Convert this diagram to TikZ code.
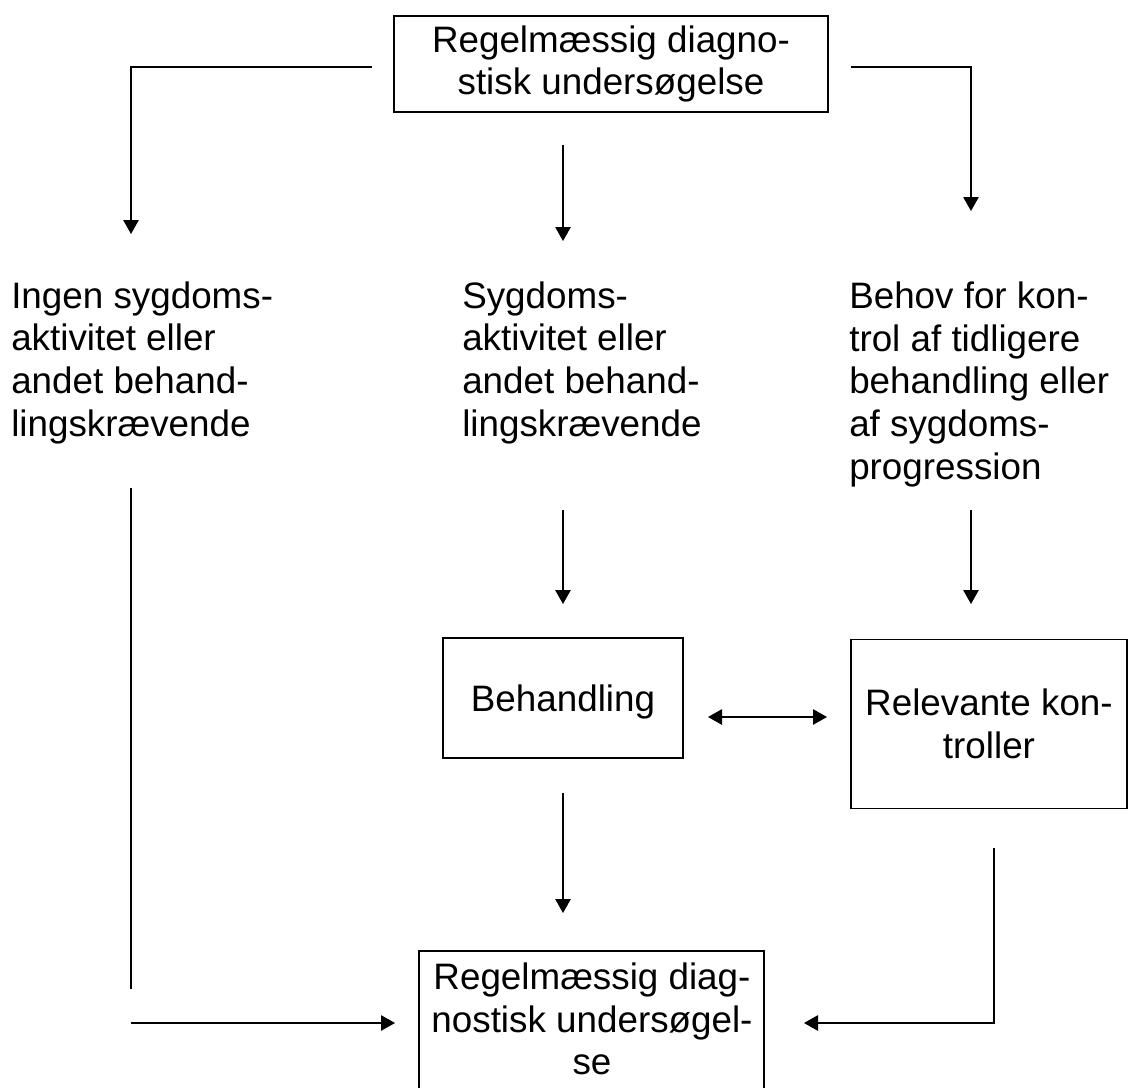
\documentclass[tikz,border=0pt]{standalone}
\usepackage{fontspec}
\setmainfont{Liberation Sans}
\usetikzlibrary{arrows.meta}
\begin{document}
\begin{tikzpicture}[x=0.75pt,y=-0.75pt,
  box/.style={draw, line width=1.3pt, inner sep=0pt, align=center, font=\fontsize{27.6pt}{32pt}\selectfont},
  txt/.style={font=\fontsize{27.6pt}{32pt}\selectfont, inner sep=0pt},
  ln/.style={line width=1.3pt},
  arr/.style={line width=1.3pt, -{Triangle[length=10.5pt,width=11.5pt]}},
  darr/.style={line width=1.3pt, {Triangle[length=10.5pt,width=11.5pt]}-{Triangle[length=10.5pt,width=11.5pt]}}]
\useasboundingbox (0,0) rectangle (1129,1088);
% boxes
\node[box, minimum width=325.5pt, minimum height=72pt] (top) at (611,64) {Regelmæssig diagno-\\stisk undersøgelse};
\node[box, minimum width=180pt, minimum height=90pt, text depth=0pt] (beh) at (563,698) {Behandling};
\node[box, minimum width=207pt, minimum height=126.75pt] (rel) at (989,724) {Relevante kon-\\troller};
\node[txt, align=center] (bot) at (592,1019) {Regelmæssig diag-\\nostisk undersøgel-\\se};
\draw[ln] (419,1100) |- (764,951) -- (764,1100);
% column texts (anchor: baseline of the last line)
\node[txt, align=left, anchor=base west] (c1) at (11,436) {Ingen sygdoms-\\aktivitet eller\\andet behand-\\lingskrævende};
\node[txt, align=left, anchor=base west] (c2) at (462,436) {Sygdoms-\\aktivitet eller\\andet behand-\\lingskrævende};
\node[txt, align=left, anchor=base west] (c3) at (849,479) {Behov for kon-\\trol af tidligere\\behandling eller\\af sygdoms-\\progression};
% free ends
\coordinate (tl) at (372,67);
\coordinate (tlc) at (131,67);
\coordinate (tlt) at (131,234);
\coordinate (tms) at (563,145);
\coordinate (tmt) at (563,241);
\coordinate (trs) at (851,67);
\coordinate (trc) at (971,67);
\coordinate (trt) at (971,211);
\coordinate (lvs) at (131,488);
\coordinate (lve) at (131,989);
\coordinate (mms) at (563,510);
\coordinate (mmt) at (563,604);
\coordinate (rms) at (971,510);
\coordinate (rmt) at (971,604);
\coordinate (da) at (708,717);
\coordinate (db) at (827,717);
\coordinate (mbs) at (563,793);
\coordinate (mbt) at (563,913);
\coordinate (lbs) at (131,1023);
\coordinate (lbt) at (395,1023);
\coordinate (rbs) at (994,848);
\coordinate (rbc) at (994,1023);
\coordinate (rbt) at (804,1023);
% connectors
\draw[arr] (tl) -- (tlc) -- (tlt);
\draw[arr] (tms) -- (tmt);
\draw[arr] (trs) -- (trc) -- (trt);
\draw[ln] (lvs) -- (lve);
\draw[arr] (mms) -- (mmt);
\draw[arr] (rms) -- (rmt);
\draw[darr] (da) -- (db);
\draw[arr] (mbs) -- (mbt);
\draw[arr] (lbs) -- (lbt);
\draw[arr] (rbs) -- (rbc) -- (rbt);
\end{tikzpicture}
\end{document}
